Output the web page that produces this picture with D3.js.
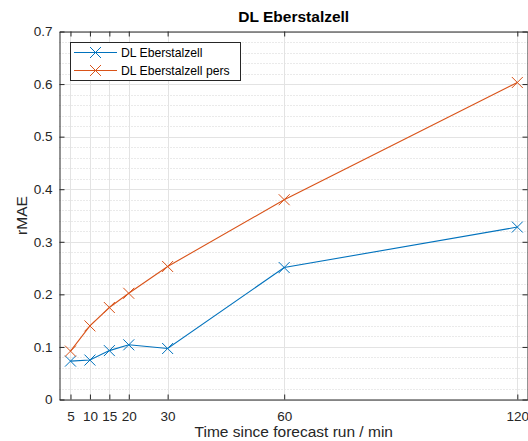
<!DOCTYPE html>
<html><head><meta charset="utf-8">
<script src="https://cdn.jsdelivr.net/npm/d3@7"></script>
<style>body{margin:0;background:#fff}svg{display:block}text{font-family:"Liberation Sans",Arial,sans-serif}</style>
</head><body>
<script>
const leadTimes = [5, 10, 15, 20, 30, 60, 120];
const dlValues = [0.073, 0.075, 0.093, 0.104, 0.097, 0.251, 0.328];
const persValues = [0.092, 0.140, 0.175, 0.202, 0.253, 0.380, 0.603];
const seriesNames = ["DL Eberstalzell", "DL Eberstalzell pers"];
const seriesColors = ["#0072BD", "#D95319"];
const xTicks = [5, 10, 15, 20, 30, 60, 120];
const yTicks = [0, 0.1, 0.2, 0.3, 0.4, 0.5, 0.6, 0.7];
const yMinor = d3.range(0, 0.701, 0.02);

const W = 528, H = 441;
const L = 59.5, R = 528, T = 31.5, B = 399.5;
const svg = d3.select("body").append("svg").attr("width", W).attr("height", H);
const x = d3.scaleLinear().domain([2.17, 122.75]).range([L, R]);
const y = d3.scaleLinear().domain([0, 0.7]).range([B, T]);
const ink = "#262626";

// minor grid
svg.append("g").selectAll("line").data(yMinor.filter(v => Math.round(v*100) % 10 !== 0)).join("line")
  .attr("x1", L).attr("x2", R).attr("y1", d => Math.round(y(d)) + 0.5).attr("y2", d => Math.round(y(d)) + 0.5)
  .attr("stroke", "#d4d4d4").attr("stroke-dasharray", "1,2").attr("stroke-width", 1);
// major grid
svg.append("g").selectAll("line").data(yTicks).join("line")
  .attr("x1", L).attr("x2", R).attr("y1", d => Math.round(y(d)) + 0.5).attr("y2", d => Math.round(y(d)) + 0.5)
  .attr("stroke", "#e3e3e3");
svg.append("g").selectAll("line").data(xTicks).join("line")
  .attr("y1", T).attr("y2", B).attr("x1", d => Math.round(x(d)) + 0.5).attr("x2", d => Math.round(x(d)) + 0.5)
  .attr("stroke", "#e3e3e3");

// axes
const xAx = svg.append("g").attr("transform", `translate(0,${B})`)
  .call(d3.axisBottom(x).tickValues(xTicks).tickSizeInner(-5).tickSizeOuter(0).tickPadding(12));
const xTop = svg.append("g").attr("transform", `translate(0,${T})`)
  .call(d3.axisTop(x).tickValues(xTicks).tickSizeInner(-5).tickSizeOuter(0).tickFormat(""));
const yAx = svg.append("g").attr("transform", `translate(${L},0)`)
  .call(d3.axisLeft(y).tickValues(yTicks).tickSizeInner(-5).tickSizeOuter(0).tickPadding(7).tickFormat(d => d === 0 ? "0" : d3.format(".1f")(d)));
const yR = svg.append("g").attr("transform", `translate(${R - 0.5},0)`)
  .call(d3.axisRight(y).tickValues(yTicks).tickSizeInner(-5).tickSizeOuter(0).tickFormat(""));
[xAx, xTop, yAx, yR].forEach(g => {
  g.selectAll("path,line").attr("stroke", ink).attr("stroke-width", 1);
  g.selectAll("text").attr("fill", ink).style("font-size", "13.5px").style("font-family", "'Liberation Sans',Arial,sans-serif");
});

// series
const data = [dlValues, persValues];
const line = d3.line().x((d, i) => x(leadTimes[i])).y(d => y(d));
const xMark = (g, cx, cy, c, s) => {
  g.append("path").attr("d", `M${cx - s},${cy - s}L${cx + s},${cy + s}M${cx - s},${cy + s}L${cx + s},${cy - s}`)
    .attr("stroke", c).attr("stroke-width", 1).attr("fill", "none");
};
data.forEach((vals, k) => {
  const g = svg.append("g");
  g.append("path").attr("d", line(vals)).attr("fill", "none").attr("stroke", seriesColors[k]).attr("stroke-width", 1.1);
  vals.forEach((v, i) => xMark(g, x(leadTimes[i]), y(v), seriesColors[k], 5.5));
});

// legend
const lg = svg.append("g");
lg.append("rect").attr("x", 70.5).attr("y", 42.5).attr("width", 170).attr("height", 38)
  .attr("fill", "#fff").attr("stroke", ink).attr("stroke-width", 1);
seriesNames.forEach((n, k) => {
  const ly = 52.5 + k * 18;
  lg.append("line").attr("x1", 74).attr("x2", 117).attr("y1", ly).attr("y2", ly).attr("stroke", seriesColors[k]).attr("stroke-width", 1.1);
  xMark(lg, 95.5, ly, seriesColors[k], 5.5);
  lg.append("text").attr("x", 121).attr("y", ly + 4.5).text(n).attr("fill", "#000").style("font-size", "12.2px");
});

// titles
svg.append("text").attr("x", (L + R) / 2).attr("y", 22).attr("text-anchor", "middle")
  .style("font-size", "15.5px").style("font-weight", "bold").attr("fill", "#000").text("DL Eberstalzell");
svg.append("text").attr("x", (L + R) / 2).attr("y", 437).attr("text-anchor", "middle")
  .style("font-size", "15.5px").attr("fill", ink).text("Time since forecast run / min");
svg.append("text").attr("transform", `translate(27,${(T + B) / 2}) rotate(-90)`).attr("text-anchor", "middle")
  .style("font-size", "15.5px").attr("fill", ink).text("rMAE");
</script>
</body></html>
